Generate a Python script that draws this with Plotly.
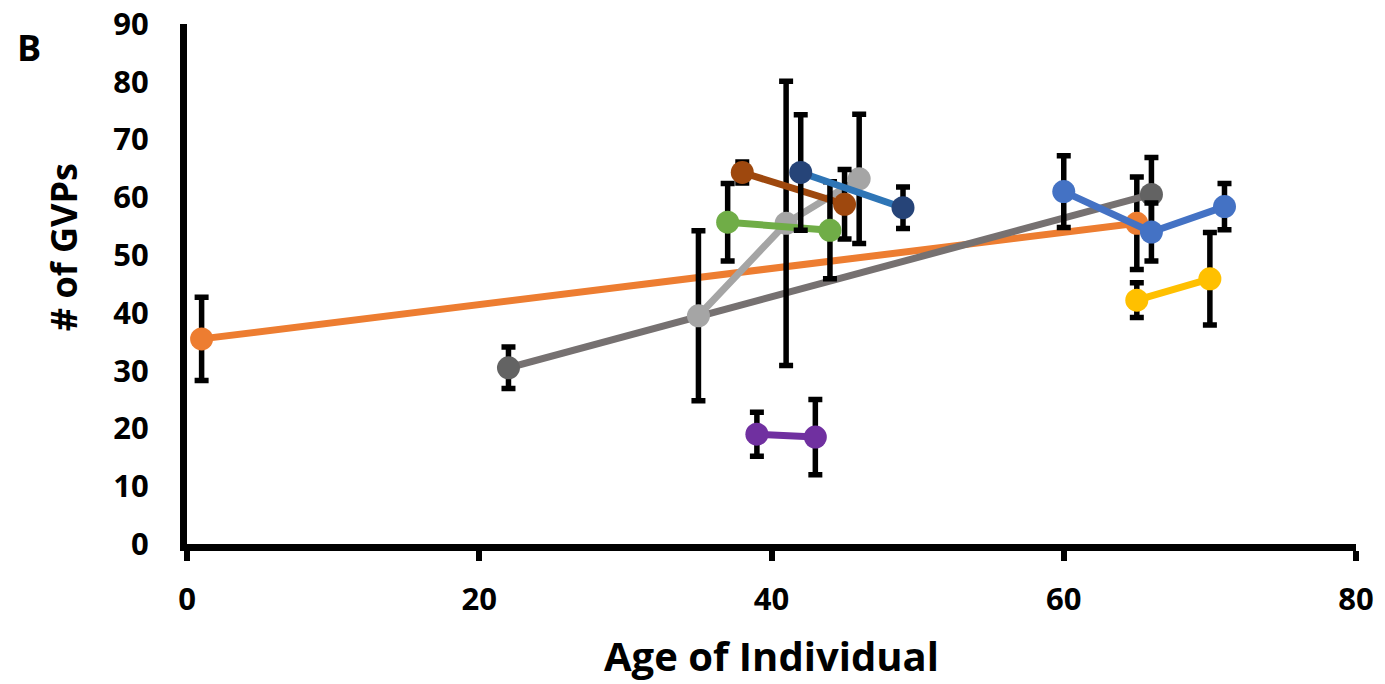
import plotly.graph_objects as go

# ---- data ----
orange_x = [1, 65]
orange_y = [35.5, 55.5]
orange_err = [7.2, 8.0]

dgray_x = [22, 66]
dgray_y = [30.5, 60.5]
dgray_err = [3.6, 6.4]

lgray_x = [35, 41, 46]
lgray_y = [39.5, 55.5, 63.2]
lgray_err = [14.7, 24.6, 11.2]

navy_x = [42, 49]
navy_y = [64.3, 58.2]
navy_err = [10.0, 3.6]

brown_x = [38, 45]
brown_y = [64.3, 58.8]
brown_err = [1.8, 6.0]

green_x = [37, 44]
green_y = [55.7, 54.3]
green_err = [6.7, 8.4]

purple_x = [39, 43]
purple_y = [19.0, 18.5]
purple_err = [3.8, 6.5]

blue_x = [60, 66, 71]
blue_y = [61.0, 54.0, 58.4]
blue_err = [6.2, 5.0, 4.0]

yellow_x = [65, 70]
yellow_y = [42.2, 45.9]
yellow_err = [3.0, 8.0]

x_ticks = [0, 20, 40, 60, 80]
y_ticks = [0, 10, 20, 30, 40, 50, 60, 70, 80, 90]

series = [
    (orange_x, orange_y, orange_err, "#ED7D31", "#ED7D31"),
    (dgray_x, dgray_y, dgray_err, "#767171", "#636363"),
    (lgray_x, lgray_y, lgray_err, "#A5A5A5", "#A5A5A5"),
    (brown_x, brown_y, brown_err, "#9E480E", "#9E480E"),
    (green_x, green_y, green_err, "#70AD47", "#70AD47"),
    (navy_x, navy_y, navy_err, "#2E75B6", "#264478"),
    (purple_x, purple_y, purple_err, "#7030A0", "#7030A0"),
    (blue_x, blue_y, blue_err, "#4472C4", "#4472C4"),
    (yellow_x, yellow_y, yellow_err, "#FFC000", "#FFC000"),
]

fig = go.Figure()
for xs, ys, es, lc, mc in series:
    fig.add_trace(go.Scatter(
        x=xs, y=ys, mode="lines+markers",
        line=dict(color=lc, width=7),
        marker=dict(color=mc, size=23),
        error_y=dict(type="data", array=es, visible=True, color="black",
                     thickness=5.5, width=7),
        showlegend=False, cliponaxis=False,
    ))

font_family = "Open Sans, Liberation Sans, sans-serif"
fig.update_layout(
    width=1385, height=684,
    margin=dict(l=187, r=29, t=24, b=140),
    paper_bgcolor="white", plot_bgcolor="white",
    font=dict(family=font_family, color="black"),
    showlegend=False,
)
fig.update_xaxes(
    range=[0, 80], tickvals=x_ticks, showgrid=False, zeroline=False,
    showline=True, linecolor="black", linewidth=7, automargin=False,
    ticks="outside", ticklen=10, tickwidth=6, tickcolor="black",
    ticklabelstandoff=12,
    tickfont=dict(size=31, family=font_family, weight=700, color="black"),
)
fig.update_yaxes(
    range=[0, 90], tickvals=y_ticks, showgrid=False, zeroline=False,
    showline=True, linecolor="black", linewidth=7, automargin=False,
    ticks="", ticklabelstandoff=25,
    tickfont=dict(size=31, family=font_family, weight=700, color="black"),
)
fig.add_annotation(
    text="Age of Individual", xref="paper", yref="paper",
    x=0.5, y=-0.215, xanchor="center", yanchor="middle", showarrow=False,
    font=dict(size=40, family=font_family, weight=700, color="black"),
)
fig.add_annotation(
    text="# of GVPs", xref="paper", yref="paper",
    x=-0.106, xanchor="center", y=0.571, yanchor="middle", textangle=-90,
    showarrow=False,
    font=dict(size=36, family=font_family, weight=700, color="black"),
)
fig.add_annotation(
    text="B", xref="paper", yref="paper",
    x=-0.135, y=0.954, xanchor="center", yanchor="middle", showarrow=False,
    font=dict(size=36, family=font_family, weight=700, color="black"),
)

# remove the browser's default 8px body margin so the figure fills the window
fig.write_html(
    "out.html",
    config={"displayModeBar": False},
    post_script="document.body.style.margin='0px';document.body.style.overflow='hidden';",
)
